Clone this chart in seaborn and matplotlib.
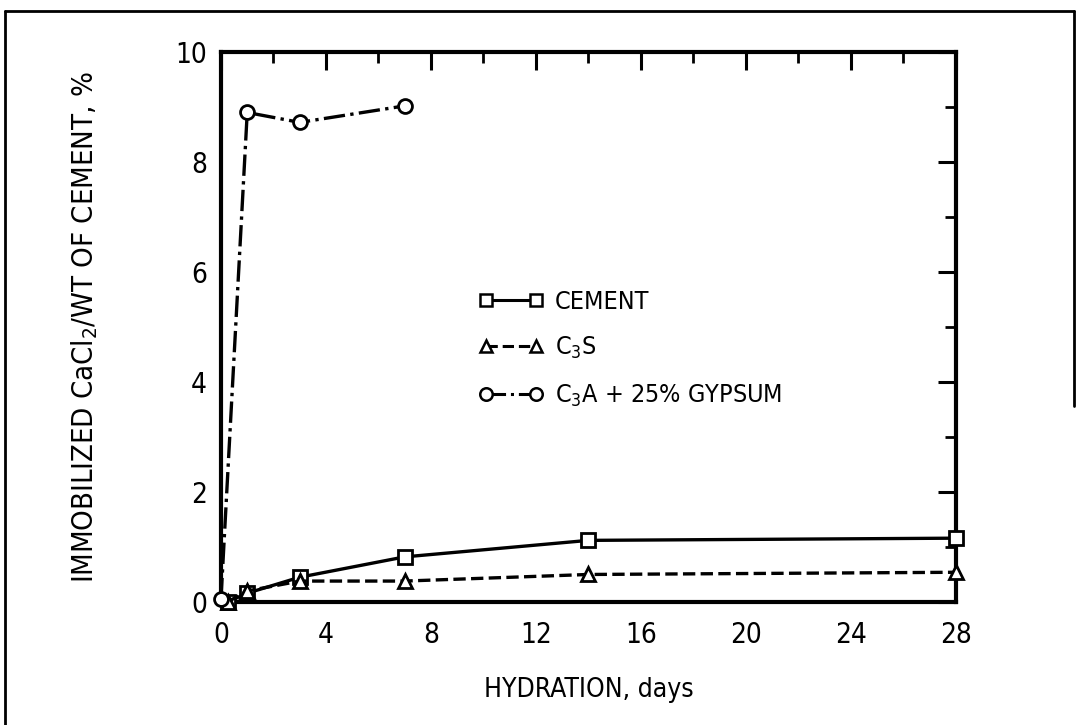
import matplotlib
matplotlib.use("Agg")
import matplotlib.pyplot as plt
import seaborn as sns
import pandas as pd
from matplotlib.lines import Line2D
from matplotlib.ticker import MultipleLocator

sns.set_theme(style="white")
plt.rcParams['font.family'] = ['DejaVu Sans']
plt.rcParams['font.stretch'] = 'condensed'
plt.rcParams['text.color'] = 'black'
plt.rcParams['axes.labelcolor'] = 'black'
plt.rcParams['xtick.color'] = 'black'
plt.rcParams['ytick.color'] = 'black'

cement_days = [0.25, 1, 3, 7, 14, 28]
cement_vals = [0.0, 0.16, 0.45, 0.82, 1.12, 1.16]
c3s_days = [0.25, 1, 3, 7, 14, 28]
c3s_vals = [0.0, 0.2, 0.38, 0.38, 0.5, 0.54]
c3a_days = [0, 1, 3, 7]
c3a_vals = [0.05, 8.9, 8.72, 9.02]

series_labels = ['CEMENT', r'C$_3$S', r'C$_3$A + 25% GYPSUM']
x_ticks = [0, 4, 8, 12, 16, 20, 24, 28]
y_ticks = [0, 2, 4, 6, 8, 10]

fig = plt.figure(figsize=(10.79, 7.25), dpi=100)
ax = fig.add_axes([0.2048, 0.1697, 0.886 - 0.2048, 0.9283 - 0.1697])

styles = [('s', '-'), ('^', '--'), ('o', '-.')]
data = [(cement_days, cement_vals), (c3s_days, c3s_vals), (c3a_days, c3a_vals)]
handles = []
for (xs, ys), (mk, ls), lab in zip(data, styles, series_labels):
    df = pd.DataFrame({'x': xs, 'y': ys})
    sns.lineplot(data=df, x='x', y='y', ax=ax, color='black', linewidth=2.4,
                 linestyle=ls, marker=mk, markersize=10, markerfacecolor='white',
                 markeredgecolor='black', markeredgewidth=2, clip_on=False, zorder=3)
    handles.append(Line2D([], [], color='black', linewidth=2.2, linestyle=ls, marker=mk,
                          markersize=9, markerfacecolor='white', markeredgecolor='black',
                          markeredgewidth=1.8))

ax.set_xlim(0, 28)
ax.set_ylim(0, 10)
ax.set_xticks(x_ticks)
ax.set_yticks(y_ticks)
ax.xaxis.set_minor_locator(MultipleLocator(2))
ax.yaxis.set_minor_locator(MultipleLocator(1))
ax.tick_params(which='major', direction='in', length=13, width=2.2, top=True, right=True,
               labelsize=20, pad=10)
ax.tick_params(axis='x', which='major', pad=14)
ax.tick_params(which='minor', direction='in', length=8, width=2, top=True, right=True)
for sp in ax.spines.values():
    sp.set_linewidth(3)
    sp.set_color('black')

ax.set_xlabel('HYDRATION, days', fontsize=19, labelpad=20)
ax.set_ylabel(r'IMMOBILIZED CaCl$_2$/WT OF CEMENT, %', fontsize=21, labelpad=54)

leg = ax.legend(handles, series_labels, loc='upper left', bbox_to_anchor=(0.334, 0.59),
                frameon=False, numpoints=2, handlelength=2.6, handletextpad=0.45,
                labelspacing=0.85, fontsize=18, borderpad=0)

# figure border
fig.add_artist(Line2D([0.005, 0.005], [0.0, 0.985], color='black', linewidth=2, transform=fig.transFigure))
fig.add_artist(Line2D([0.005, 0.995], [0.985, 0.985], color='black', linewidth=2, transform=fig.transFigure))
fig.add_artist(Line2D([0.995, 0.995], [0.985, 0.44], color='black', linewidth=2, transform=fig.transFigure))

fig.savefig('out.png', dpi=100, facecolor='white')
